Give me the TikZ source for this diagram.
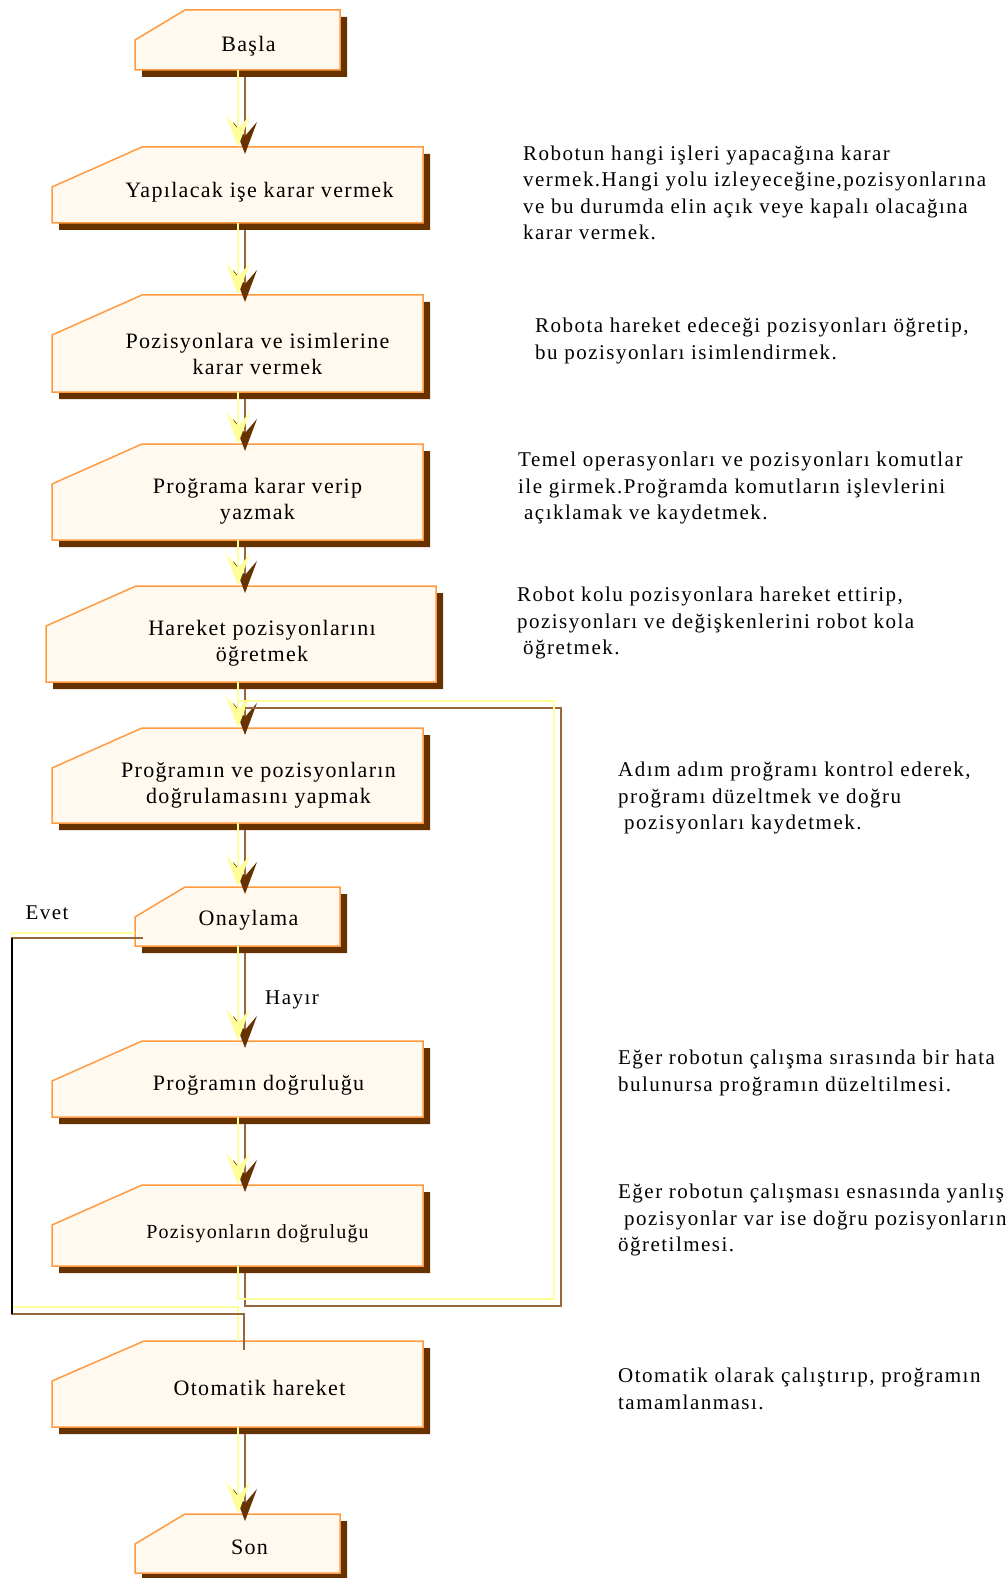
\documentclass[tikz,border=0pt]{standalone}
\usepackage{fontspec}
\setmainfont{Liberation Serif}
\newfontfamily\boxfont[LetterSpace=6]{Liberation Serif}
\newfontfamily\descfont[LetterSpace=7]{Liberation Serif}
\usetikzlibrary{arrows.meta,calc}

\definecolor{cardfill}{HTML}{FFF9EF}
\definecolor{cardline}{HTML}{FF9A40}
\definecolor{cardshadow}{HTML}{663300}
\definecolor{connyellow}{HTML}{FFFF99}
\definecolor{connbrown}{HTML}{94673D}

% outline of a card with its top left corner cut off
\newcommand{\cardoutline}[3]{([xshift=#2pt]#1.north west) -- (#1.north east) -- (#1.south east) -- (#1.south west) -- ([yshift=-#3pt]#1.north west) -- cycle}

\begin{document}
\begin{tikzpicture}[
  x=1pt, y=-1pt,
  card/.style={rectangle, inner sep=0pt, outer sep=0pt, minimum width=371pt, minimum height=76pt},
  small card/.style={card, minimum width=205pt, minimum height=60pt},
  cardtext/.style={font=\boxfont\fontsize{22}{26}\selectfont, align=center, inner sep=0pt},
  desc/.style={font=\descfont\fontsize{21}{26.5}\selectfont, align=left, anchor=west, inner sep=0pt},
  line/.style={draw=connyellow, line width=2pt},
  shadow line/.style={draw=connbrown, line width=2pt},
  conn/.style={line, -{Stealth[length=32pt,width=24pt,inset=14pt,color=connyellow]}},
  conn shadow/.style={shadow line, -{Stealth[length=32pt,width=24pt,inset=14pt,color=cardshadow]},
    transform canvas={shift={(7pt,-7pt)}}}
]
\useasboundingbox (0,0) rectangle (1006,1578);
\coordinate (axis) at (238,0);

% Flow boxes
\node[small card] (basla) at (237.5,40) {};
\node[card] (yap) at (237.5,185) {};
\node[card, minimum height=97pt] (poz) at (237.5,343.5) {};
\node[card, minimum height=96pt] (prog) at (237.5,492) {};
\node[card, minimum width=390pt, minimum height=96pt] (har) at (241,634) {};
\node[card, minimum height=95pt] (dogr) at (237.5,775.5) {};
\node[small card, minimum height=59pt] (onay) at (237.5,916.5) {};
\node[card] (progd) at (237.5,1079) {};
\node[card, minimum height=81pt] (pozd) at (237.5,1225.5) {};
\node[card, minimum height=86pt] (oto) at (237.5,1384) {};
\node[small card, minimum height=59pt] (son) at (237.5,1543.5) {};

% Card shapes with their shadows
\foreach \n/\dx/\dy in {basla/50/30, yap/90/40, poz/90/40, prog/90/40, har/90/40, dogr/90/40,
    onay/50/30, progd/90/40, pozd/90/40, oto/92/40, son/50/30} {
  \fill[cardshadow, transform canvas={shift={(7pt,-7pt)}}] \cardoutline{\n}{\dx}{\dy};
  \filldraw[fill=cardfill, draw=cardline, line width=1.5pt] \cardoutline{\n}{\dx}{\dy};
}

% Straight arrows
\foreach \a/\b in {basla/yap, yap/poz, poz/prog, prog/har, har/dogr, dogr/onay, onay/progd, progd/pozd, oto/son} {
  \draw[conn shadow] (\a.south -| axis) -- (\b.north -| axis);
  \draw[conn] (\a.south -| axis) -- (\b.north -| axis);
}

% Correction loop back to checking
\coordinate (loopright) at (554,1299);
\coordinate (looptop) at (238,701);
\draw[shadow line, transform canvas={shift={(7pt,-7pt)}}] (pozd.south -| axis) |- (loopright) |- (looptop);
\draw[line] (pozd.south -| axis) |- (loopright) |- (looptop);

% Evet branch
\coordinate (loopleft) at (12,1307);
\draw[line] ([yshift=-16.5pt]onay.west) -| (loopleft) -| (oto.north -| axis);
\draw[shadow line] ([shift={(8pt,-21.5pt)}]onay.west) -| ([yshift=-7pt]loopleft) -| ([shift={(6pt,-9pt)}]oto.north -| axis);
\draw[black, line width=1.5pt] ([yshift=-21.5pt]onay.west -| loopleft) -- ([yshift=-7pt]loopleft);

% Box texts
\node[cardtext] (baslatext) at ([shift={(11pt,-6pt)}]basla.center) {Başla};
\node[cardtext] (yaptext) at ([shift={(22pt,-7pt)}]yap.center) {Yapılacak işe karar vermek};
\node[cardtext] (poztext) at ([shift={(20pt,-10pt)}]poz.center) {Pozisyonlara ve isimlerine\\karar vermek};
\node[cardtext] (progtext) at ([shift={(20pt,-9pt)}]prog.center) {Proğrama karar verip\\yazmak};
\node[cardtext] (hartext) at ([shift={(21pt,-9pt)}]har.center) {Hareket pozisyonlarını\\öğretmek};
\node[cardtext] (dogrtext) at ([shift={(21pt,-10pt)}]dogr.center) {Proğramın ve pozisyonların\\doğrulamasını yapmak};
\node[cardtext] (onaytext) at ([shift={(11pt,-4pt)}]onay.center) {Onaylama};
\node[cardtext] (progdtext) at ([shift={(21pt,-6pt)}]progd.center) {Proğramın doğruluğu};
\node[cardtext, font=\boxfont\fontsize{20}{26}\selectfont] (pozdtext) at ([shift={(20pt,-8pt)}]pozd.center) {Pozisyonların doğruluğu};
\node[cardtext] (ototext) at ([shift={(22pt,-4pt)}]oto.center) {Otomatik hareket};
\node[cardtext] (sontext) at ([shift={(12pt,-4pt)}]son.center) {Son};

% Branch labels
\node[desc, anchor=center] (evet) at (47,913) {Evet};
\node[desc, anchor=center] (hayir) at (292,1000) {Hayır};

% Descriptions
\node[desc] (d1) at (523,193) {Robotun hangi işleri yapacağına karar\\vermek.Hangi yolu izleyeceğine,pozisyonlarına\\ve bu durumda elin açık veye kapalı olacağına\\karar vermek.};
\node[desc] (d2) at (535,341) {Robota hareket edeceği pozisyonları öğretip,\\bu pozisyonları isimlendirmek.};
\node[desc] (d3) at (518,488) {Temel operasyonları ve pozisyonları komutlar\\ile girmek.Proğramda komutların işlevlerini\\\hspace*{6pt}açıklamak ve kaydetmek.};
\node[desc] (d4) at (517,623) {Robot kolu pozisyonlara hareket ettirip,\\pozisyonları ve değişkenlerini robot kola\\\hspace*{6pt}öğretmek.};
\node[desc] (d5) at (618,798) {Adım adım proğramı kontrol ederek,\\proğramı düzeltmek ve doğru\\\hspace*{6pt}pozisyonları kaydetmek.};
\node[desc] (d6) at (618,1073) {Eğer robotun çalışma sırasında bir hata\\bulunursa proğramın düzeltilmesi.};
\node[desc] (d7) at (618,1220) {Eğer robotun çalışması esnasında yanlış\\\hspace*{6pt}pozisyonlar var ise doğru pozisyonların\\öğretilmesi.};
\node[desc] (d8) at (618,1389) {Otomatik olarak çalıştırıp, proğramın\\tamamlanması.};
\end{tikzpicture}
\end{document}
